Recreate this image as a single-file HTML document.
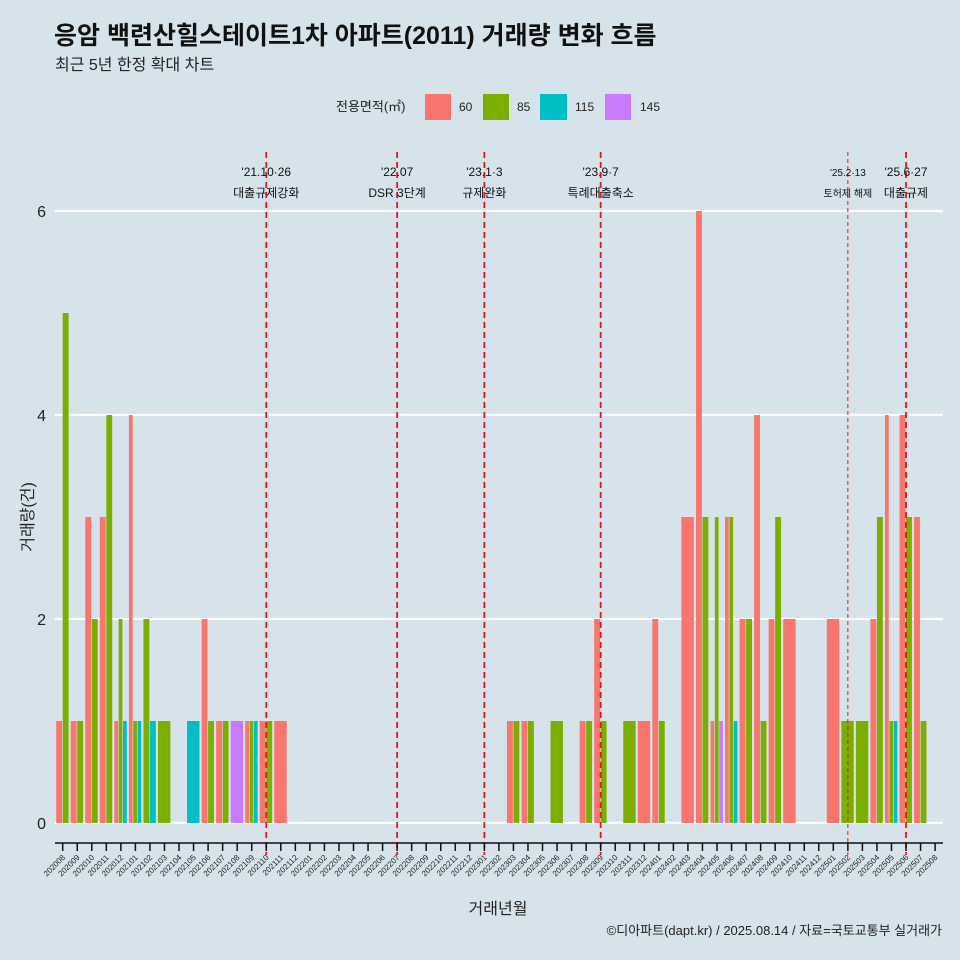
<!DOCTYPE html>
<html><head><meta charset="utf-8"><style>
body{margin:0;background:#d6e3ea;}
svg{display:block;font-family:"Liberation Sans","Noto Sans CJK KR",sans-serif;}
</style></head><body>
<svg id="chart" width="960" height="960" viewBox="0 0 960 960">
<rect width="960" height="960" fill="#d6e3ea"/>
<text x="54" y="44" font-size="25" font-weight="bold" fill="#111">응암 백련산힐스테이트1차 아파트(2011) 거래량 변화 흐름</text>
<text x="55" y="70" font-size="16" fill="#222">최근 5년 한정 확대 차트</text>
<g font-size="12" fill="#222">
<text x="336" y="111" font-size="13">전용면적(㎡)</text>
<rect x="425" y="94" width="26" height="26" fill="#f8766d"/><text x="459" y="111">60</text>
<rect x="483" y="94" width="26" height="26" fill="#7cae00"/><text x="517" y="111">85</text>
<rect x="540" y="94" width="27" height="26" fill="#00bfc4"/><text x="575" y="111">115</text>
<rect x="605" y="94" width="26" height="26" fill="#c77cff"/><text x="640" y="111">145</text>
</g>
<g id="grid"></g><g id="bars"></g><g id="vlines"></g><g id="axes"></g>
<text transform="translate(33,517) rotate(-90)" text-anchor="middle" font-size="16" fill="#222">거래량(건)</text>
<text x="498" y="914" text-anchor="middle" font-size="16" fill="#222">거래년월</text>
<text x="942" y="935" text-anchor="end" font-size="13" fill="#222">©디아파트(dapt.kr) / 2025.08.14 / 자료=국토교통부 실거래가</text>
</svg>
<script>
const months=[];
for(let y=2020,m=8;!(y===2025&&m===9);){months.push(''+y+(m<10?'0':'')+m);m++;if(m>12){m=1;y++;}}
const sizes=['60','85','115','145'];
const colors={'60':'#f8766d','85':'#7cae00','115':'#00bfc4','145':'#c77cff'};
const vol60={202008:1,202009:1,202010:3,202011:3,202012:1,202101:4,202106:2,202107:1,202109:1,202110:1,202111:1,202303:1,202304:1,202308:1,202309:2,202312:1,202401:2,202403:3,202404:6,202405:1,202406:3,202407:2,202408:4,202409:2,202410:2,202501:2,202504:2,202505:4,202506:4,202507:3};
const vol85={202008:5,202009:1,202010:2,202011:4,202012:2,202101:1,202102:2,202103:1,202106:1,202107:1,202109:1,202110:1,202303:1,202304:1,202306:1,202308:1,202309:1,202311:1,202401:1,202404:3,202405:3,202406:3,202407:2,202408:1,202409:3,202502:1,202503:1,202504:3,202505:1,202506:3,202507:1};
const vol115={202012:1,202101:1,202102:1,202105:1,202109:1,202406:1,202505:1};
const vol145={202108:1,202405:1};
const series={'60':vol60,'85':vol85,'115':vol115,'145':vol145};
const yTicks=[0,2,4,6];
const events=[['202110',"'21.10·26",'대출규제강화',1],['202207',"'22.07",'DSR 3단계',1],['202301',"'23.1·3",'규제완화',1],['202309',"'23.9·7",'특례대출축소',1],['202502',"'25.2·13",'토허제 해제',0],['202506',"'25.6·27",'대출규제',1]];
const NS='http://www.w3.org/2000/svg';
const x0=62.7,step=14.54,y0=823,ppu=102,gw=13;
const xs=i=>x0+i*step, ys=v=>y0-v*ppu;
function mk(p,t,a){const e=document.createElementNS(NS,t);for(const k in a)e.setAttribute(k,a[k]);document.getElementById(p).appendChild(e);return e;}
yTicks.forEach(v=>{
const l=mk('grid','line',{x1:55,x2:943,y1:ys(v),y2:ys(v),stroke:'#fff','stroke-width':2.2});


const t=mk('axes','text',{x:46,y:ys(v)+6,'text-anchor':'end','font-size':16,fill:'#222'});t.textContent=v;


});
months.forEach((m,i)=>{
const present=sizes.filter(s=>series[s][m]);
const w=gw/Math.max(present.length,1);
present.forEach((s,j)=>{
const v=series[s][m];
const r=mk('bars','rect',{x:xs(i)-gw/2+j*w,y:ys(v),width:Math.max(w-0.6,0.5),height:v*ppu,fill:colors[s]});


});
const tk=mk('axes','line',{x1:xs(i),x2:xs(i),y1:843,y2:851,stroke:'#111','stroke-width':1.5});


const tl=mk('axes','text',{transform:`translate(${xs(i)+3},858) rotate(-45)`,'text-anchor':'end','font-size':8,fill:'#222'});tl.textContent=m;


});
const ax=mk('axes','line',{x1:55,x2:943,y1:843,y2:843,stroke:'#111','stroke-width':1.5});


events.forEach(e=>{
const i=months.indexOf(e[0]);const x=xs(i);
const l=mk('vlines','line',{x1:x,x2:x,y1:152,y2:855,stroke:'#e8141b','stroke-width':e[3]?1.8:1,'stroke-dasharray':e[3]?'6,4':'4,3'});


const fs=e[3]?13:11;
const a=mk('vlines','text',{x:x,y:176,'text-anchor':'middle','font-size':fs-1,fill:'#111'});a.textContent=e[1];


const b=mk('vlines','text',{x:x,y:197,'text-anchor':'middle','font-size':fs-1,fill:'#111'});b.textContent=e[2];


});
</script>
</body></html>
